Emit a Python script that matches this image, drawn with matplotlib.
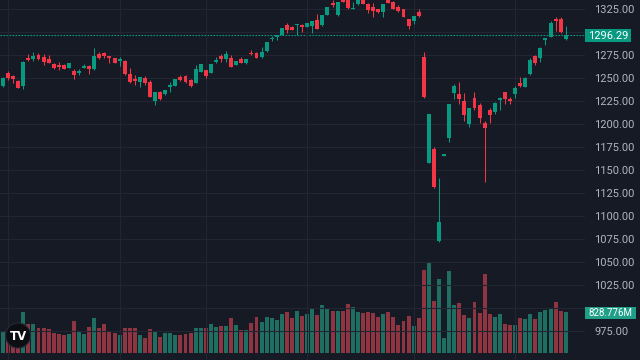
import numpy as np
import matplotlib
matplotlib.use('Agg')
import matplotlib.pyplot as plt
from matplotlib.patches import Rectangle, Circle
from matplotlib.transforms import IdentityTransform

# daily OHLC (112 sessions)
opens = [1241.3, 1255.8, 1251.8, 1247.1, 1241.3, 1272.1, 1270.3, 1275.0, 1273.1, 1270.3,
         1264.9, 1263.8, 1264.5, 1261.2, 1257.6, 1255.1, 1261.2, 1263.0, 1259.5, 1275.8,
         1276.8, 1273.9, 1271.7, 1268.2, 1268.8, 1254.3, 1249.2, 1245.3, 1250.0, 1245.3,
         1225.3, 1234.5, 1232.3, 1240.2, 1241.3, 1250.8, 1252.2, 1247.8, 1244.9, 1256.8,
         1258.7, 1255.8, 1267.4, 1274.2, 1271.0, 1272.1, 1264.1, 1270.6, 1266.0, 1277.5,
         1277.5, 1272.5, 1279.3, 1292.4, 1294.9, 1296.7, 1307.6, 1305.8, 1307.3, 1307.9,
         1305.8, 1306.5, 1313.0, 1307.3, 1318.8, 1331.8, 1318.2, 1337.0, 1336.5, 1325.0,
         1330.1, 1335.8, 1330.4, 1327.5, 1324.7, 1322.1, 1335.5, 1332.9, 1326.8, 1324.7,
         1313.8, 1312.3, 1321.4, 1273.1, 1157.9, 1172.8, 1072.5, 1165.5, 1184.4, 1234.0,
         1232.3, 1225.0, 1200.0, 1227.9, 1220.6, 1201.4, 1215.2, 1213.4, 1226.1, 1234.5,
         1227.5, 1232.6, 1244.6, 1240.2, 1254.3, 1274.2, 1272.1, 1291.6, 1294.9, 1314.1,
         1313.8, 1292.7]
closes = [1250.3, 1249.7, 1249.2, 1239.5, 1267.4, 1269.9, 1274.2, 1271.0, 1267.7, 1266.3,
          1261.2, 1262.3, 1260.1, 1266.3, 1253.6, 1257.9, 1263.4, 1259.5, 1274.2, 1271.7,
          1273.9, 1271.4, 1266.3, 1270.3, 1254.0, 1245.3, 1246.7, 1250.8, 1244.6, 1229.7,
          1235.1, 1227.5, 1236.6, 1242.1, 1248.6, 1247.5, 1245.6, 1241.3, 1259.8, 1264.9,
          1252.2, 1264.9, 1269.6, 1270.3, 1275.8, 1262.3, 1268.5, 1266.3, 1270.3, 1275.8,
          1272.1, 1278.3, 1288.8, 1293.5, 1297.1, 1304.3, 1302.2, 1302.2, 1308.4, 1305.1,
          1309.8, 1312.3, 1303.6, 1318.5, 1326.8, 1329.3, 1332.3, 1332.9, 1325.8, 1326.4,
          1335.8, 1330.4, 1323.9, 1322.8, 1321.4, 1330.4, 1331.8, 1325.3, 1323.2, 1316.6,
          1306.5, 1317.4, 1317.4, 1229.0, 1210.5, 1131.8, 1093.5, 1167.4, 1221.7, 1241.3,
          1226.8, 1209.8, 1217.1, 1217.7, 1206.2, 1196.0, 1210.1, 1222.5, 1228.6, 1226.8,
          1225.3, 1239.5, 1241.0, 1250.3, 1269.6, 1266.0, 1282.6, 1293.5, 1310.1, 1312.0,
          1300.3, 1296.29]
highs = [1251.6, 1257.9, 1253.6, 1247.8, 1268.8, 1276.1, 1277.9, 1276.8, 1276.1, 1275.3,
         1266.3, 1267.4, 1265.5, 1266.6, 1259.8, 1259.4, 1265.2, 1263.6, 1282.9, 1277.9,
         1278.6, 1274.2, 1272.1, 1272.5, 1269.2, 1260.5, 1253.6, 1251.1, 1252.5, 1247.8,
         1235.1, 1235.9, 1237.2, 1245.3, 1249.2, 1252.9, 1252.8, 1248.4, 1264.1, 1265.4,
         1259.0, 1265.3, 1272.5, 1275.8, 1279.3, 1275.0, 1269.0, 1272.8, 1270.8, 1280.4,
         1278.0, 1283.4, 1289.3, 1296.0, 1297.1, 1304.8, 1309.5, 1306.3, 1308.4, 1309.0,
         1310.3, 1312.3, 1319.6, 1319.0, 1327.3, 1334.5, 1332.8, 1338.0, 1337.5, 1332.9,
         1336.5, 1337.0, 1331.0, 1331.8, 1325.2, 1330.6, 1336.0, 1333.4, 1329.3, 1325.2,
         1314.3, 1317.9, 1324.7, 1278.3, 1211.0, 1174.7, 1141.0, 1167.6, 1222.2, 1243.1,
         1246.0, 1233.4, 1217.6, 1234.8, 1222.5, 1203.6, 1217.1, 1224.2, 1229.0, 1235.0,
         1228.9, 1241.0, 1251.4, 1250.8, 1271.4, 1275.3, 1284.0, 1293.5, 1312.3, 1316.6,
         1316.6, 1306.5]
lows = [1240.2, 1247.8, 1244.9, 1238.6, 1238.4, 1268.8, 1268.8, 1269.6, 1263.8, 1265.9,
        1260.1, 1258.7, 1259.4, 1260.8, 1249.2, 1253.6, 1260.8, 1254.0, 1259.0, 1270.3,
        1272.1, 1266.6, 1265.9, 1263.4, 1253.6, 1244.9, 1242.7, 1239.9, 1242.7, 1229.3,
        1220.3, 1226.4, 1231.7, 1234.8, 1240.8, 1246.7, 1245.0, 1240.5, 1244.5, 1256.3,
        1250.0, 1255.3, 1266.0, 1267.7, 1267.1, 1262.0, 1263.6, 1265.9, 1265.5, 1274.7,
        1271.6, 1272.0, 1278.8, 1290.5, 1291.3, 1296.2, 1298.6, 1301.7, 1296.4, 1300.3,
        1305.3, 1298.6, 1303.2, 1306.8, 1318.3, 1326.8, 1317.5, 1332.4, 1325.3, 1324.6,
        1329.6, 1329.9, 1321.0, 1316.6, 1320.9, 1316.6, 1331.3, 1324.8, 1321.4, 1316.1,
        1303.6, 1308.4, 1316.0, 1228.6, 1157.4, 1130.1, 1072.0, 1165.3, 1180.7, 1226.8,
        1221.4, 1203.3, 1197.1, 1215.2, 1201.4, 1136.6, 1201.4, 1210.5, 1215.2, 1221.7,
        1221.7, 1228.6, 1240.2, 1239.8, 1252.9, 1264.5, 1267.7, 1285.5, 1294.6, 1301.4,
        1299.2, 1291.6]
# volume in millions
volumes = [441, 461, 394, 360, 828, 590, 590, 495, 495, 482,
           400, 380, 353, 380, 652, 448, 380, 523, 713, 495,
           584, 448, 400, 366, 509, 509, 509, 366, 292, 482,
           434, 319, 400, 400, 353, 353, 380, 400, 495, 509,
           509, 584, 523, 543, 543, 713, 570, 461, 461, 604,
           726, 618, 726, 713, 665, 787, 828, 699, 842, 747,
           787, 916, 760, 971, 889, 855, 842, 842, 984, 930,
           828, 814, 828, 808, 719, 794, 828, 733, 557, 645,
           747, 543, 699, 1683, 1839, 1045, 1493, 292, 1670, 971,
           1004, 760, 699, 1032, 808, 1595, 781, 726, 781, 577,
           557, 557, 713, 685, 781, 685, 828, 869, 903, 1032,
           842, 828.776]

price_ticks = list(range(975, 1326, 25))
hidden_ticks = [1300, 1000]  # covered by the price / volume tags
last_price = 1296.29
last_volume = '828.776M'

bg = '#161a25'
grid_c = '#222632'
up = '#089981'
down = '#f23645'
up_vol = '#1e6e62'
down_vol = '#8f3441'

W, H = 640, 360
fig = plt.figure(figsize=(6.4, 3.6), dpi=100, facecolor=bg)
rect = [0, 0, 585 / W, 1]

x = np.arange(len(opens))
o = np.array(opens)
c = np.array(closes)
rising = c >= o

# volume pane (bottom overlay)
axv = fig.add_axes(rect)
axv.set_facecolor(bg)
vcol = [up_vol if r else down_vol for r in rising]
axv.bar(x, volumes, width=0.78, color=vcol, linewidth=0)
axv.set_ylim(-148.6, 7181)
axv.set_xlim(-0.59, 114.8)
axv.axis('off')

# price pane
ax = fig.add_axes(rect, sharex=axv)
ax.patch.set_alpha(0)
ax.set_ylim(943.5, 1334.78)
ax.set_xlim(-0.59, 114.8)

ccol = [up if r else down for r in rising]
ax.vlines(x, lows, highs, colors=ccol, linewidth=0.75, zorder=2)
body = np.maximum(np.abs(c - o), 1.1)
ax.bar(x, body, bottom=np.minimum(o, c), width=0.78, color=ccol, linewidth=0, zorder=3)

ax.axhline(last_price, color=up, linestyle=(0, (1.5, 1.2)), linewidth=0.8, zorder=1)

ax.set_yticks(price_ticks)
ax.set_yticklabels(['' if p in hidden_ticks else f'{p:.2f}' for p in price_ticks])
ax.yaxis.tick_right()
ax.tick_params(axis='y', length=0, pad=6.5, labelsize=8, labelcolor='#b2b5be')
for lab in ax.get_yticklabels():
    lab.set_fontfamily('Roboto')
ax.set_xticks([1, 23, 40, 60, 81, 101])
ax.tick_params(axis='x', length=0, labelbottom=False)
ax.grid(True, color=grid_c, linewidth=0.8)
for s in ax.spines.values():
    s.set_visible(False)


def tag(x0, x1, ytop, ybot, text, color, size):
    fig.patches.append(Rectangle((x0 / W, 1 - ybot / H), (x1 - x0) / W, (ybot - ytop) / H,
                                 transform=fig.transFigure, facecolor=color,
                                 edgecolor='none', zorder=5))
    fig.text((x0 + x1) / 2 / W, 1 - (ytop + ybot) / 2 / H, text, color='white', fontsize=size,
             family='Roboto', ha='center', va='center', zorder=6)


tag(585, 631, 29.3, 42.3, f'{last_price:.2f}', up, 8)
tag(585, 636, 306.7, 319.3, last_volume, '#1f9f88', 7)

# logo badge
fig.patches.append(Circle((18, H - 335.5), 12.5, transform=IdentityTransform(),
                          facecolor='#0c0e14', edgecolor='#262a35', linewidth=0.8, zorder=5))
fig.text(18 / W, 1 - 336 / H, 'TV', color='white', fontsize=8.5, fontweight='bold',
         ha='center', va='center', zorder=6)

fig.savefig('out.png', dpi=100, facecolor=bg)
